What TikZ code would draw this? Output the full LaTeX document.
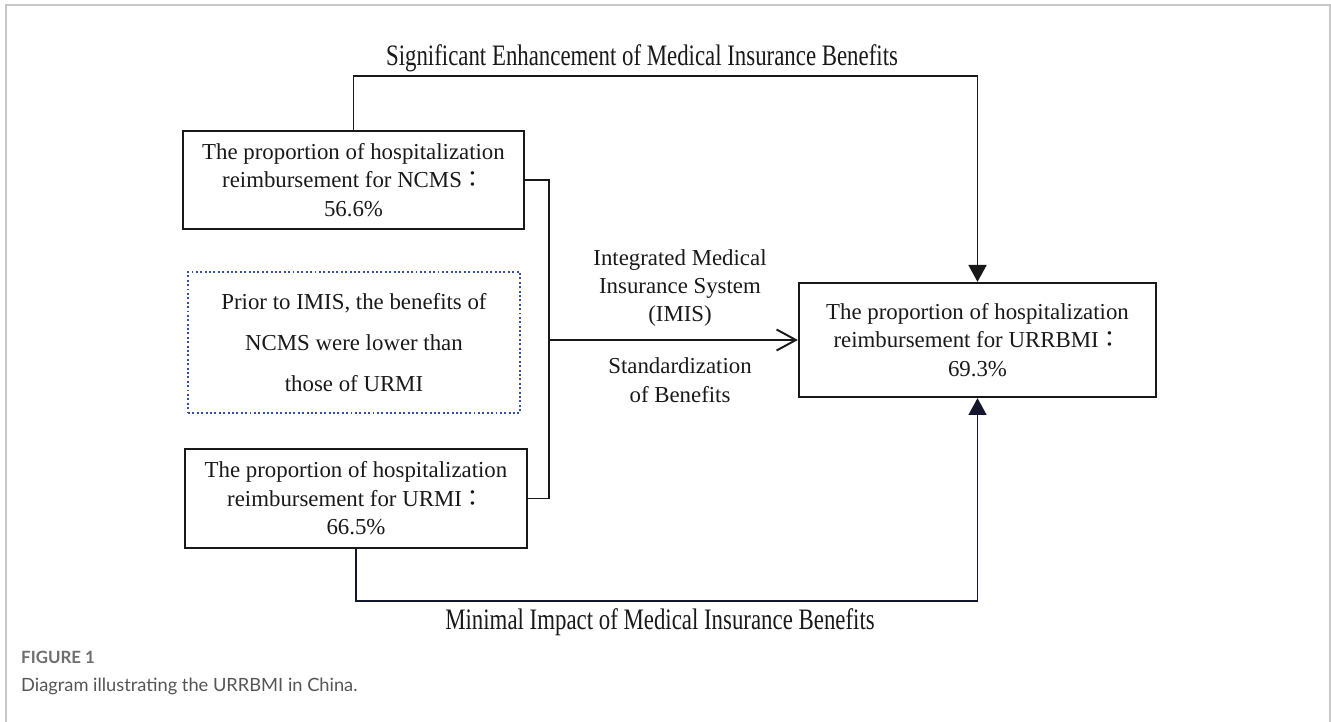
\documentclass[tikz,border=0pt]{standalone}
\usepackage{fontspec}
\setmainfont{Liberation Serif}
\newfontfamily\capfont{Lato}
\newfontfamily\cjk{Noto Sans CJK TC}
\usepackage{graphicx}
\usetikzlibrary{arrows.meta,positioning,calc}
\definecolor{inkgrey}{RGB}{25,25,25}
\definecolor{framegrey}{RGB}{200,200,200}
\definecolor{dotblue}{RGB}{50,80,170}
\definecolor{navyline}{RGB}{20,22,45}
\definecolor{capgrey}{RGB}{110,110,110}
\definecolor{captext}{RGB}{85,85,85}

\tikzset{
  ratebox/.style={rectangle, draw=inkgrey, line width=1.3pt, align=center, text=inkgrey, font=\fontsize{13}{16.2}\selectfont},
  notebox/.style={rectangle, draw=dotblue, line width=1.2pt, dash pattern=on 1.1pt off 1.4pt, align=center, text=inkgrey, font=\fontsize{13}{23.5}\selectfont},
  conn/.style={draw=inkgrey, line width=1.1pt},
  flowlabel/.style={align=center, text=inkgrey, font=\fontsize{13}{16.2}\selectfont},
}

\begin{document}
\begin{tikzpicture}[x=0.02cm, y=-0.02cm]
    \useasboundingbox (0,0) rectangle (1331,722);
    \draw[framegrey, line width=0.8pt] (6,722) -- (6,5) -- (1330,5) -- (1330,722);

    % Reimbursement boxes
    \node[ratebox, minimum width=6.82cm, minimum height=1.96cm] (ncms) at (353.5,180)
        {The proportion of hospitalization\\ reimbursement for NCMS{\cjk ：}\\ 56.6\%};
    \node[notebox, minimum width=6.64cm, minimum height=2.82cm] (note) at (354,342.5)
        {Prior to IMIS, the benefits of\\ NCMS were lower than\\ those of URMI};
    \node[ratebox, minimum width=6.84cm, minimum height=1.98cm] (urmi) at (356,498.5)
        {The proportion of hospitalization\\ reimbursement for URMI{\cjk ：}\\ 66.5\%};
    \node[ratebox, minimum width=7.14cm, minimum height=2.28cm] (urrbmi) at (977.5,340)
        {The proportion of hospitalization\\ reimbursement for URRBMI{\cjk ：}\\ 69.3\%};

    % Merging bracket and integration arrow
    \draw[conn] (ncms.east) -- ++(24,0) coordinate (brtop) |- (urmi.east);
    \draw[conn, -{Straight Barb[length=11pt,width=12pt]}] (brtop |- urrbmi.west) -- (urrbmi.west);
    \node[flowlabel] (imis) at (680,288) {Integrated Medical\\ Insurance System\\ (IMIS)};
    \node[flowlabel] (standard) at (680,380) {Standardization\\ of Benefits};

    % Outer routes
    \draw[conn, -{Triangle[length=9.6pt,width=10.2pt]}] (ncms.north) -- ++(0,-54) -| (urrbmi.north);
    \draw[conn, draw=navyline, -{Triangle[length=9.6pt,width=10.2pt]}] (urmi.south) -- ++(0,52) -| (urrbmi.south);
    \node[text=inkgrey, font=\fontsize{13}{16}\selectfont] (enhance) at (642,58)
        {\scalebox{1}[1.3]{Significant Enhancement of Medical Insurance Benefits}};
    \node[text=inkgrey, font=\fontsize{13}{16}\selectfont] (minimal) at (660,622)
        {\scalebox{1}[1.3]{Minimal Impact of Medical Insurance Benefits}};

    % Caption
    \node[anchor=west, text=capgrey, font=\capfont\bfseries\fontsize{9.6}{11}\selectfont] (figno) at (15,657) {FIGURE 1};
    \node[anchor=west, text=captext, font=\capfont\fontsize{10.4}{12}\selectfont] (figcap) at (15,686) {Diagram illustrating the URRBMI in China.};
\end{tikzpicture}
\end{document}
